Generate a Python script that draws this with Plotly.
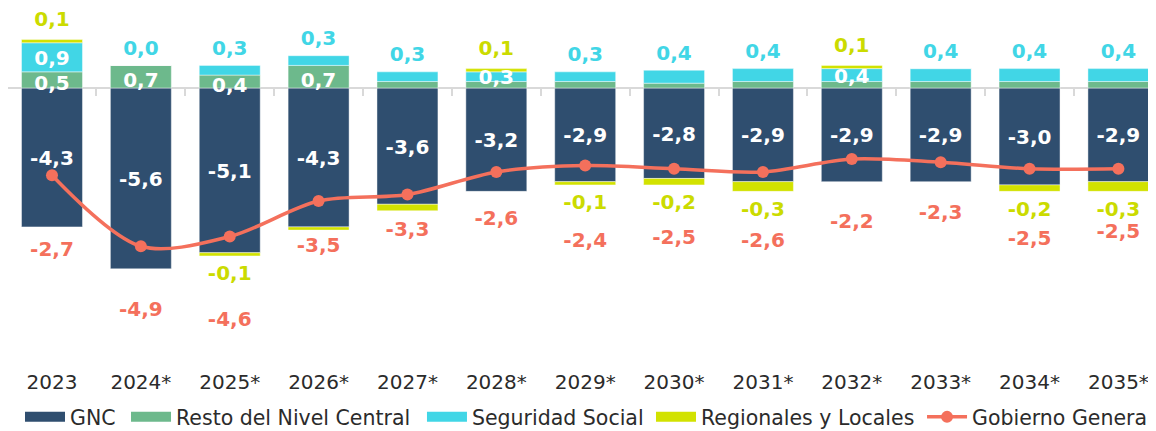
import plotly.graph_objects as go

# ---------------- data ----------------
years = ["2023", "2024*", "2025*", "2026*", "2027*", "2028*", "2029*",
         "2030*", "2031*", "2032*", "2033*", "2034*", "2035*"]
gnc = [-4.3, -5.6, -5.1, -4.3, -3.6, -3.2, -2.9, -2.8, -2.9, -2.9, -2.9, -3.0, -2.9]
resto = [0.5, 0.7, 0.4, 0.7, 0.2, 0.2, 0.2, 0.15, 0.2, 0.2, 0.2, 0.2, 0.2]
seguridad = [0.9, 0.0, 0.3, 0.3, 0.3, 0.3, 0.3, 0.4, 0.4, 0.4, 0.4, 0.4, 0.4]
regionales = [0.1, 0.0, -0.1, -0.1, -0.2, 0.1, -0.1, -0.2, -0.3, 0.1, 0.0, -0.2, -0.3]
gobierno = [-2.7, -4.9, -4.6, -3.5, -3.3, -2.6, -2.4, -2.5, -2.6, -2.2, -2.3, -2.5, -2.5]

# which data labels the original shows
show_resto = [True, True, True, True, False, False, False, False, False, False, False, False, False]
show_reg = [True, False, True, False, False, True, True, True, True, True, False, True, True]

# ---------------- style ----------------
C_GNC = "#2F4E6F"
C_RESTO = "#6DB98C"
C_SEG = "#41D6E6"
C_REG = "#D2E200"
C_GG = "#F4705C"
C_TXT = "#2B2B2B"
FONT = "DejaVu Sans"

# the page body has an 8px margin, so the figure is 8px smaller than the window
W, H = 1148, 423
M_T, M_B, M_L, M_R = 2, 63, 0, 0
Y_MIN, Y_MAX = -8.669, 2.415
PPU = (H - M_T - M_B) / (Y_MAX - Y_MIN)   # pixels per data unit
gg_drop_px = [73, 62, 82, 43, 34, 46, 74, 68, 68, 61, 49, 69, 62]
ABOVE_SEG_PX = 18
ABOVE_REG_PX = 21
BELOW_REG_PX = 17
RESTO_DROP_PX = 3
TEXT_DY_PX = 2.5      # plotly centres text slightly high
legend_x = [0.01045, 0.1028, 0.3606, 0.5601, 0.7962]


def fmt(v):
    s = f"{v:.1f}".replace(".", ",")
    return "0,0" if s == "-0,0" else s


def u(px):
    return px / PPU


fig = go.Figure()
bar_line = dict(color="rgba(255,255,255,0.55)", width=0.8)
for name, vals, col in [("GNC", gnc, C_GNC), ("Resto del Nivel Central", resto, C_RESTO),
                        ("Seguridad Social", seguridad, C_SEG),
                        ("Regionales y Locales", regionales, C_REG)]:
    fig.add_trace(go.Bar(x=years, y=vals, name=name, marker=dict(color=col, line=bar_line),
                         showlegend=False, hoverinfo="skip"))

legend_ids = ["legend", "legend2", "legend3", "legend4", "legend5"]
# legend-only swatches (wide rectangles)
for k, (name, col) in enumerate([("GNC", C_GNC), ("Resto del Nivel Central", C_RESTO),
                                 ("Seguridad Social", C_SEG), ("Regionales y Locales", C_REG)]):
    fig.add_trace(go.Scatter(x=[None], y=[None], mode="lines", name=name,
                             line=dict(color=col, width=12), legend=legend_ids[k]))

fig.add_trace(go.Scatter(x=years, y=gobierno, mode="lines+markers", name="Gobierno General",
                         line=dict(color=C_GG, width=3.5, shape="spline", smoothing=0.9),
                         marker=dict(color=C_GG, size=12), hoverinfo="skip",
                         legend=legend_ids[4]))

# ------------- data labels -------------
lab_x, lab_y, lab_t, lab_c = [], [], [], []
for i, yr in enumerate(years):
    lab_x.append(yr); lab_y.append(gnc[i] / 2); lab_t.append(fmt(gnc[i])); lab_c.append("white")
    if show_resto[i]:
        lab_x.append(yr); lab_y.append(resto[i] / 2 - u(RESTO_DROP_PX))
        lab_t.append(fmt(resto[i])); lab_c.append("white")
    pos_top = resto[i] + seguridad[i] + max(regionales[i], 0)
    if regionales[i] > 0:
        lab_x.append(yr); lab_y.append(resto[i] + seguridad[i] / 2)
        lab_t.append(fmt(seguridad[i])); lab_c.append("white")
    else:
        lab_x.append(yr); lab_y.append(resto[i] + seguridad[i] + u(ABOVE_SEG_PX))
        lab_t.append(fmt(seguridad[i])); lab_c.append(C_SEG)
    if show_reg[i]:
        if regionales[i] > 0:
            lab_y.append(pos_top + u(ABOVE_REG_PX))
        else:
            lab_y.append(gnc[i] + regionales[i] - u(BELOW_REG_PX))
        lab_x.append(yr); lab_t.append(fmt(regionales[i])); lab_c.append("#CBDB00")
    lab_x.append(yr); lab_y.append(gobierno[i] - u(gg_drop_px[i]))
    lab_t.append(fmt(gobierno[i])); lab_c.append(C_GG)
lab_y = [v - u(TEXT_DY_PX) for v in lab_y]

fig.add_trace(go.Scatter(x=lab_x, y=lab_y, mode="text", text=lab_t,
                         textposition="middle center",
                         textfont=dict(family=FONT, size=20, color=lab_c, weight="bold"),
                         showlegend=False, hoverinfo="skip", cliponaxis=False))

# invisible trace for the zero-line axis with tick marks
fig.add_trace(go.Scatter(x=years, y=[None] * len(years), xaxis="x2", mode="lines",
                         showlegend=False, hoverinfo="skip"))

x_range = [-0.495, 12.423]
legend_common = dict(orientation="h", xanchor="left", y=-0.137, yanchor="middle",
                     font=dict(family=FONT, size=20.5, color=C_TXT), itemwidth=40,
                     bgcolor="rgba(0,0,0,0)", tracegroupgap=0)
legends = {lid: dict(x=legend_x[k], **legend_common) for k, lid in enumerate(legend_ids)}

fig.update_layout(
    width=W, height=H,
    margin=dict(t=M_T, b=M_B, l=M_L, r=M_R, autoexpand=False),
    paper_bgcolor="white", plot_bgcolor="white",
    barmode="relative", bargap=0.314,
    font=dict(family=FONT, size=20, color=C_TXT),
    xaxis=dict(type="category", categoryorder="array", categoryarray=years,
               range=x_range, showline=False, ticks="", showgrid=False,
               tickfont=dict(size=20, color=C_TXT), zeroline=False),
    xaxis2=dict(type="category", categoryorder="array", categoryarray=years,
                range=x_range, overlaying="x", anchor="free",
                position=(0 - Y_MIN) / (Y_MAX - Y_MIN), side="bottom",
                showline=True, linecolor="#D9D9D9", linewidth=2,
                ticks="outside", tickson="boundaries", ticklen=7,
                tickcolor="#D9D9D9", tickwidth=1.5, showticklabels=False,
                showgrid=False, layer="below traces"),
    yaxis=dict(range=[Y_MIN, Y_MAX], visible=False, showgrid=False, zeroline=False),
    showlegend=True,
    **legends,
)

fig.write_html("out.html")
